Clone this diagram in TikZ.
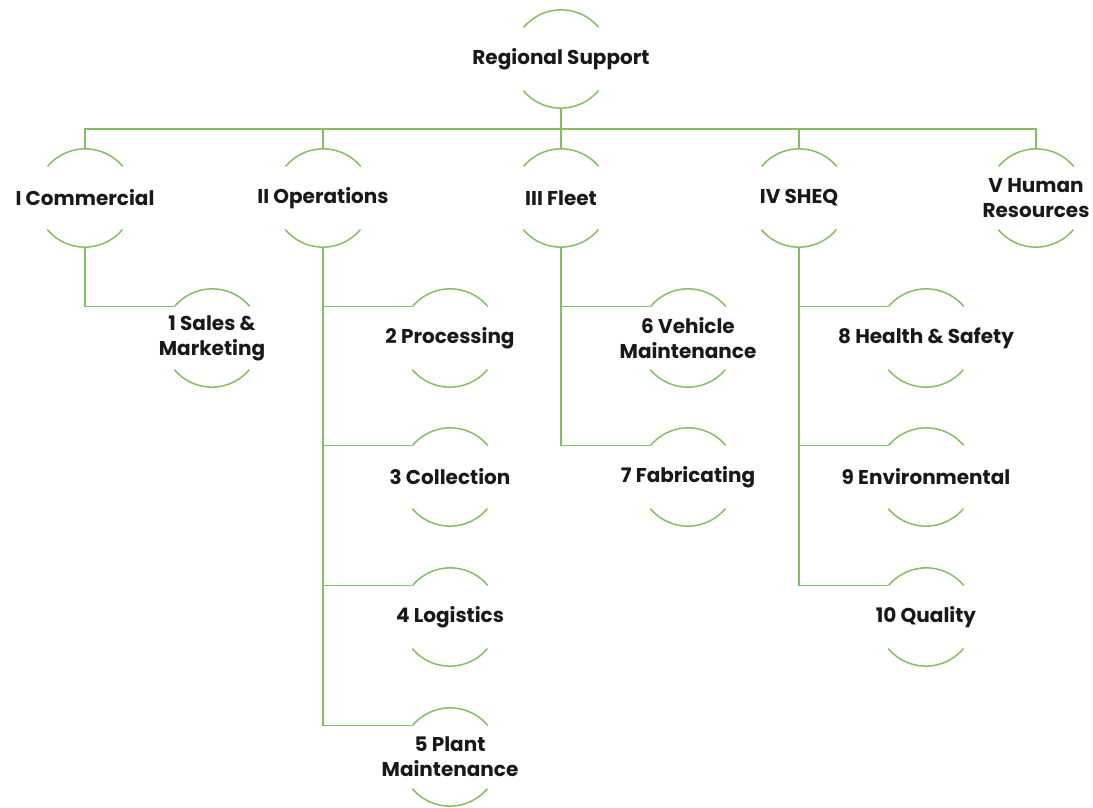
\documentclass[tikz,border=0pt]{standalone}
\usepackage{fontspec}
\setmainfont{Poppins}
\definecolor{leaf}{RGB}{132,190,98}
\definecolor{ink}{RGB}{25,25,25}

\tikzset{
  txt/.style={align=center, text=ink, font=\bfseries\fontsize{20}{25}\selectfont},
  unit/.style={circle, minimum size=98pt, inner sep=0pt, label={[txt]center:{#1}}},
  ring/.style={draw=leaf, line width=1.5pt},
  link/.style={draw=leaf, line width=1.4pt}
}

\begin{document}
\begin{tikzpicture}[x=1pt,y=1pt]
  \useasboundingbox (0,0) rectangle (1093,807);

  % head
  \node[unit={Regional Support}] (rs) at (561,748) {};

  % departments
  \node[unit={I Commercial}] (com) at (85,609) {};
  \node[unit={II Operations}] (ops) at (323,609) {};
  \node[unit={III Fleet}] (flt) at (561,609) {};
  \node[unit={IV SHEQ}] (sheq) at (799,609) {};
  \node[unit={V Human\\Resources}] (hr) at (1036,609) {};

  % sections
  \node[unit={1 Sales \&\\Marketing}] (sales) at (212,469) {};
  \node[unit={2 Processing}] (proc) at (450,469) {};
  \node[unit={3 Collection}] (coll) at (450,330) {};
  \node[unit={4 Logistics}] (logi) at (450,190) {};
  \node[unit={5 Plant\\Maintenance}] (plant) at (450,50) {};
  \node[unit={6 Vehicle\\Maintenance}] (veh) at (688,469) {};
  \node[unit={7 Fabricating}] (fab) at (688,330) {};
  \node[unit={8 Health \& Safety}] (hs) at (926,469) {};
  \node[unit={9 Environmental}] (env) at (926,330) {};
  \node[unit={10 Quality}] (qual) at (926,190) {};

  % the two arcs round every label
  \foreach \n in {rs,com,ops,flt,sheq,hr,sales,proc,coll,logi,plant,veh,fab,hs,env,qual}
    \draw[ring] (\n.40) arc(40:140:49pt) (\n.220) arc(220:320:49pt);

  % connectors
  \coordinate (bus) at (561,678);
  \foreach \n in {com,ops,flt,sheq,hr}
    \draw[link] (rs.south) -- (bus) -| (\n.north);
  \foreach \p/\c in {com/sales,ops/proc,ops/coll,ops/logi,ops/plant,flt/veh,flt/fab,sheq/hs,sheq/env,sheq/qual}
    \draw[link] (\p.south) |- (\c.140);
\end{tikzpicture}
\end{document}
